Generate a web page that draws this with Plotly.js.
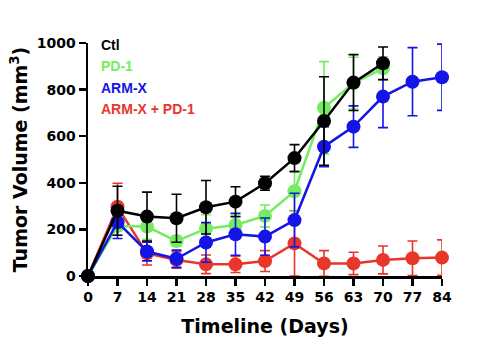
<!DOCTYPE html>
<html>
<head>
<meta charset="utf-8">
<script src="https://cdn.plot.ly/plotly-3.0.1.min.js"></script>
<style>html,body{margin:0;padding:0;background:#fff;}#chart{width:485px;height:360px;}</style>
</head>
<body>
<div id="chart"></div>
<script>
var days = [0, 7, 14, 21, 28, 35, 42, 49, 56, 63, 70, 77, 84];
var seriesNames = ["Ctl", "PD-1", "ARM-X", "ARM-X + PD-1"];

var ctlDays = [0, 7, 14, 21, 28, 35, 42, 49, 56, 63, 70];
var ctlMean = [0, 280, 255, 248, 295, 319, 398, 506, 665, 830, 913];
var ctlErr  = [0, 105, 105, 103, 115, 64, 30, 58, 190, 120, 70];

var pd1Days = [0, 7, 14, 21, 28, 35, 42, 49, 56, 63, 70];
var pd1Mean = [0, 215, 212, 150, 203, 219, 258, 364, 722, 828, 891];
var pd1Err  = [0, 40, 55, 22, 60, 45, 47, 86, 198, 111, 50];

var armDays = [0, 7, 14, 21, 28, 35, 42, 49, 56, 63, 70, 77, 84];
var armMean = [0, 231, 105, 74, 144, 179, 169, 240, 555, 641, 770, 834, 853];
var armErr  = [0, 70, 40, 37, 85, 90, 80, 115, 86, 89, 133, 146, 142];

var comboDays = [0, 7, 14, 21, 28, 35, 42, 49, 56, 63, 70, 77, 84];
var comboMean = [0, 297, 97, 69, 50, 50, 64, 140, 54, 54, 69, 76, 79];
var comboErr  = [0, 101, 50, 35, 40, 35, 45, 140, 55, 48, 60, 74, 76];

var colors = {ctl: "#000000", pd1: "#74ec60", arm: "#1414e6", combo: "#e8362b"};

function tr(x, y, e, color, name) {
  return {
    x: x, y: y, name: name, type: "scatter", mode: "lines+markers",
    cliponaxis: false,
    line: {color: color, width: 2.5},
    marker: {color: color, size: 14, symbol: "circle"},
    error_y: {type: "data", array: e, visible: true, color: color, thickness: 1.6, width: 5},
    showlegend: false
  };
}

var data = [
  tr(comboDays, comboMean, comboErr, colors.combo, seriesNames[3]),
  tr(pd1Days, pd1Mean, pd1Err, colors.pd1, seriesNames[1]),
  tr(armDays, armMean, armErr, colors.arm, seriesNames[2]),
  tr(ctlDays, ctlMean, ctlErr, colors.ctl, seriesNames[0])
];

var legendColors = [colors.ctl, colors.pd1, colors.arm, colors.combo];
var annotations = seriesNames.map(function (n, i) {
  return {
    xref: "paper", yref: "paper", x: 0.032, y: 0.991 - i * 0.091, xanchor: "left", yanchor: "middle",
    text: "<b>" + n + "</b>", showarrow: false,
    font: {family: "Liberation Sans, Arial, sans-serif", size: 14, color: legendColors[i]}
  };
});

var axFont = "DejaVu Sans, sans-serif";
var layout = {
  width: 485, height: 360,
  margin: {l: 88, r: 43, t: 43, b: 84},
  paper_bgcolor: "#fff", plot_bgcolor: "#fff",
  font: {family: axFont, color: "#000"},
  xaxis: {
    range: [0, 84], tickvals: days, ticktext: days.map(String),
    showline: true, linecolor: "#000", linewidth: 2.5, showgrid: false, zeroline: false,
    ticks: "outside", ticklen: 7, tickwidth: 2.5, tickcolor: "#000",
    tickfont: {size: 14, weight: "bold", family: axFont},
    title: {text: "<b>Timeline (Days)</b>", font: {size: 19, family: axFont}, standoff: 16}
  },
  yaxis: {
    range: [0, 1000], tickvals: [0, 200, 400, 600, 800, 1000],
    showline: true, linecolor: "#000", linewidth: 2.5, showgrid: false, zeroline: false,
    ticks: "outside", ticklen: 7, tickwidth: 2.5, tickcolor: "#000",
    tickfont: {size: 14, weight: "bold", family: axFont},
    title: {text: "<b>Tumor Volume (mm<sup>3</sup>)</b>", font: {size: 19, family: axFont}, standoff: 4}
  },
  annotations: annotations
};

Plotly.newPlot("chart", data, layout, {displayModeBar: false, staticPlot: true});
</script>
</body>
</html>
